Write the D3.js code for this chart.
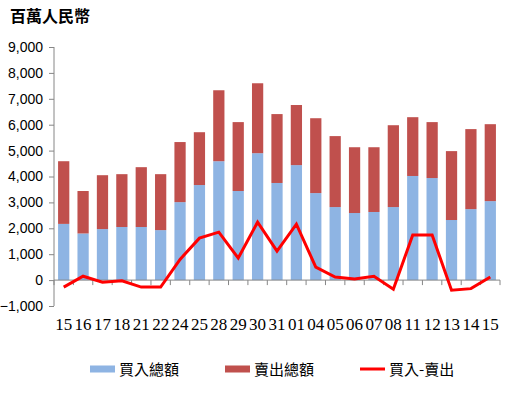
<!DOCTYPE html>
<html>
<head>
<meta charset="utf-8">
<script src="https://cdn.jsdelivr.net/npm/d3@7"></script>
<style>
  body { margin: 0; background: #fff; }
</style>
</head>
<body>
<div id="chart"></div>
<script>
var categories = ["15","16","17","18","21","22","24","25","28","29","30","31","01","04","05","06","07","08","11","12","13","14","15"];
var buyTotal  = [2170,1800,1970,2050,2050,1930,3010,3670,4590,3440,4900,3750,4440,3360,2820,2590,2630,2820,4020,3940,2320,2740,3050];
var sellTotal = [2420,1640,2080,2040,2310,2160,2320,2040,2740,2660,2700,2660,2320,2890,2740,2540,2500,3160,2270,2160,2660,3090,2970];
var netBuy    = [-270,150,-80,-30,-270,-270,800,1620,1850,850,2240,1120,2160,500,120,40,150,-350,1740,1740,-390,-330,120];
var yTicks = [-1000,0,1000,2000,3000,4000,5000,6000,7000,8000,9000];

var svgWidth = 516;
var svgHeight = 396;
var margin = { top: 47, right: 16, bottom: 90, left: 54 };
var width = svgWidth - margin.left - margin.right;
var height = svgHeight - margin.top - margin.bottom;

var svg = d3.select("#chart")
  .append("svg")
  .attr("width", svgWidth)
  .attr("height", svgHeight);

svg.append("text")
  .attr("x", 10)
  .attr("y", 22)
  .style("font-family", "'Noto Sans CJK TC'")
  .style("font-weight", "bold")
  .style("font-size", "16px")
  .text("百萬人民幣");

var g = svg.append("g")
  .attr("transform", `translate(${margin.left}, ${margin.top})`);

var idx = d3.range(categories.length);

var xScale = d3.scaleBand()
  .domain(idx)
  .range([0, width])
  .paddingInner(0.42)
  .paddingOuter(0.21);

var yScale = d3.scaleLinear()
  .domain([-1000, 9000])
  .range([height, 0]);

// y axis
var leftAxis = d3.axisLeft(yScale)
  .tickValues(yTicks)
  .tickSize(5)
  .tickFormat(d3.format(","));

var yAxis = g.append("g").call(leftAxis);
yAxis.select(".domain").attr("stroke", "#868686").attr("d", `M0,${height}V0`);
yAxis.selectAll(".tick line").attr("stroke", "#868686");
yAxis.selectAll("text")
  .attr("x", -11)
  .style("font-family", "'Liberation Sans'")
  .style("font-size", "14px")
  .attr("fill", "#000");

// bars
g.selectAll(".buy")
  .data(idx)
  .enter()
  .append("rect")
  .attr("x", i => xScale(i))
  .attr("width", xScale.bandwidth())
  .attr("y", i => yScale(buyTotal[i]))
  .attr("height", i => yScale(0) - yScale(buyTotal[i]))
  .attr("fill", "#8EB4E3");

g.selectAll(".sell")
  .data(idx)
  .enter()
  .append("rect")
  .attr("x", i => xScale(i))
  .attr("width", xScale.bandwidth())
  .attr("y", i => yScale(buyTotal[i] + sellTotal[i]))
  .attr("height", i => yScale(buyTotal[i]) - yScale(buyTotal[i] + sellTotal[i]))
  .attr("fill", "#C0504D");

// x axis at zero
var xAxis = g.append("g")
  .attr("transform", `translate(0, ${yScale(0)})`);
xAxis.append("line")
  .attr("x1", 0).attr("x2", width)
  .attr("stroke", "#868686");
xAxis.selectAll(".xt")
  .data(d3.range(categories.length + 1))
  .enter()
  .append("line")
  .attr("x1", i => i * width / categories.length)
  .attr("x2", i => i * width / categories.length)
  .attr("y1", 0).attr("y2", 5)
  .attr("stroke", "#868686");

g.selectAll(".xlab")
  .data(idx)
  .enter()
  .append("text")
  .attr("x", i => xScale(i) + xScale.bandwidth() / 2)
  .attr("y", yScale(-1000) + 24)
  .attr("text-anchor", "middle")
  .style("font-family", "'Liberation Serif'")
  .style("font-size", "17px")
  .text(i => categories[i]);

// net line
var line = d3.line()
  .x(i => xScale(i) + xScale.bandwidth() / 2)
  .y(i => yScale(netBuy[i]));

g.append("path")
  .datum(idx)
  .attr("d", line)
  .attr("fill", "none")
  .attr("stroke", "#FF0000")
  .attr("stroke-width", 3);

// legend
var legend = [
  { label: "買入總額", color: "#8EB4E3", x: 90, h: 7 },
  { label: "賣出總額", color: "#C0504D", x: 225, h: 7 },
  { label: "買入-賣出", color: "#FF0000", x: 360, h: 3 }
];

var lg = svg.selectAll(".lg")
  .data(legend)
  .enter()
  .append("g")
  .attr("transform", d => `translate(${d.x}, 369)`);

lg.append("rect")
  .attr("x", 0)
  .attr("y", d => -d.h / 2)
  .attr("width", 25)
  .attr("height", d => d.h)
  .attr("fill", d => d.color);

lg.append("text")
  .attr("x", 29)
  .attr("y", 6)
  .style("font-family", "'Noto Sans CJK TC'")
  .style("font-size", "15px")
  .text(d => d.label);
</script>
</body>
</html>
